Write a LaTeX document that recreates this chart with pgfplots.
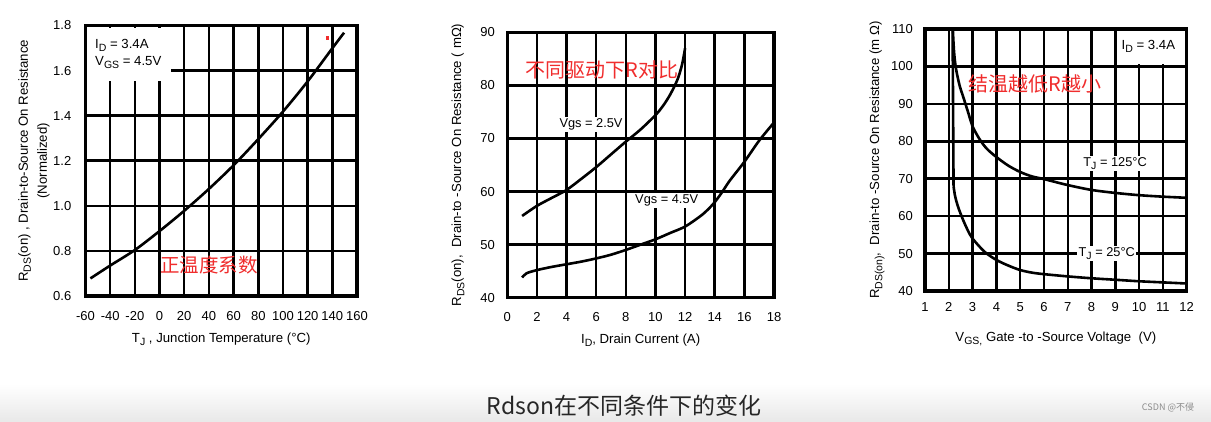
\documentclass[border=0pt]{standalone}
\usepackage{fontspec}
\setmainfont{Liberation Sans}
\newfontfamily\cjk{Noto Sans CJK SC}
\usepackage{pgfplots}
\pgfplotsset{compat=1.18}
\definecolor{anno}{RGB}{240,45,45}
\newcommand{\sub}[1]{\raisebox{-0.45ex}{\fontsize{10.5}{12}\selectfont #1}}
\pgfplotsset{
  rds/.style={
    scale only axis, anchor=south west, clip=false,
    grid=major, major grid style={black, line width=2.5pt},
    axis line style={line width=3.2pt},
    major tick length=0pt,
    tick label style={font=\fontsize{13}{15}\selectfont, inner sep=0pt},
    label style={font=\fontsize{13.2}{19}\selectfont},
    /pgf/number format/assume math mode=true,
  },
  curve/.style={black, line width=2.6pt, smooth, no marks},
}
\newcommand{\frameit}{\draw[line width=3.2pt] (rel axis cs:0,0) rectangle (rel axis cs:1,1);}
\begin{document}
\begin{tikzpicture}
\path[use as bounding box] (0,0) rectangle (1211pt,422pt);
\shade[top color=white, bottom color=black!9, draw=none] (0,0) rectangle (1211pt,38pt);

% ---------------- Chart 1 ----------------
\begin{axis}[rds,
  at={(85.5pt,126pt)}, width=271.5pt, height=270.5pt,
  xmin=-60, xmax=160, ymin=0.6, ymax=1.8,
  xtick={-60,-40,...,160}, ytick={0.6,0.8,...,1.8},
  xticklabel style={anchor=center, yshift=-20pt},
  yticklabel style={anchor=east, xshift=-14pt, /pgf/number format/.cd, fixed, fixed zerofill, precision=1},
  xlabel={T\sub{J} , Junction Temperature (°C)},
  xlabel style={at={(axis description cs:0.5,-0.159)}, anchor=center},
  ylabel={R\sub{DS}(on) , Drain-to-Source On Resistance\\(Normalized)},
  ylabel style={at={(axis description cs:-0.19,0.5)}, anchor=center, align=center},
]
\fill[white] (axis cs:-59,1.553) rectangle (axis cs:9,1.79);
\node[anchor=west, inner sep=0pt, font=\fontsize{13.2}{15}\selectfont] at (axis cs:-52.3,1.71) {I\sub{D} = 3.4A};
\node[anchor=west, inner sep=0pt, font=\fontsize{13.2}{15}\selectfont] at (axis cs:-52.3,1.635) {V\sub{GS} = 4.5V};
\addplot[curve] coordinates {(-56,0.678) (-40,0.735) (-20,0.804) (0,0.888) (20,0.978) (40,1.075) (60,1.18) (80,1.296) (100,1.418) (120,1.552) (140,1.699) (149.5,1.768)};
\addplot[only marks, mark=square*, mark size=1.1pt, color=anno] coordinates {(136,1.746)};
\node[text=anno, font=\cjk\fontsize{19.5}{22}\selectfont] at (axis cs:40,0.737) {正温度系数};
\frameit
\end{axis}

% ---------------- Chart 2 ----------------
\begin{axis}[rds,
  at={(507.3pt,124.3pt)}, width=266.7pt, height=265.4pt,
  xmin=0, xmax=18, ymin=40, ymax=90,
  xtick={0,2,...,18}, ytick={40,50,...,90},
  xticklabel style={anchor=center, yshift=-19.3pt},
  yticklabel style={anchor=east, xshift=-12.3pt},
  xlabel={I\sub{D}, Drain Current (A)},
  xlabel style={at={(axis description cs:0.5,-0.159)}, anchor=center},
  ylabel={R\sub{DS}(on),\ \ Drain-to -Source On Resistance ( mΩ)},
  ylabel style={at={(axis description cs:-0.185,0.5)}, anchor=center},
]
\node[fill=white, inner sep=1.5pt, font=\fontsize{12.8}{15}\selectfont] at (axis cs:5.65,72.6) {Vgs = 2.5V};
\node[fill=white, inner sep=1.5pt, font=\fontsize{12.8}{15}\selectfont] at (axis cs:10.76,58.3) {Vgs = 4.5V};
\addplot[curve] coordinates {(1,55.4) (2,57.3) (3,58.8) (4,60.3) (5,62.4) (6,64.6) (7,67) (8,69.4) (9,71.7) (10,74.4) (10.5,76.1) (11,78.3) (11.5,81.2) (11.8,84) (12,87)};
\addplot[curve] coordinates {(1,43.8) (1.3,44.6) (2,45.2) (3,45.8) (4,46.3) (5,46.8) (6,47.4) (7,48.1) (8,49) (9,50) (10,51) (11,52.2) (12,53.4) (13,55.3) (13.5,56.5) (14,58) (14.5,59.9) (15,62) (16,65.6) (17,69.6) (18,73)};
\node[text=anno, font=\cjk\fontsize{20}{22}\selectfont] at (axis cs:6.37,82.9) {不同驱动下R对比};
\frameit
\end{axis}

% ---------------- Chart 3 ----------------
\begin{axis}[rds,
  at={(925pt,131pt)}, width=261.7pt, height=262pt,
  xmin=1, xmax=12, ymin=40, ymax=110,
  xtick={1,2,...,12}, ytick={40,50,...,110},
  xticklabel style={anchor=center, yshift=-16pt},
  yticklabel style={anchor=east, xshift=-12pt},
  xlabel={V\sub{GS,} Gate -to -Source Voltage\ \ (V)},
  xlabel style={at={(axis description cs:0.5,-0.183)}, anchor=center},
  ylabel={R\sub{DS(on)},\ \ Drain-to -Source On Resistance (m Ω)},
  ylabel style={at={(axis description cs:-0.183,0.5)}, anchor=center},
]
\fill[white] (axis cs:9.15,100.6) rectangle (axis cs:11.95,109.6);
\node[font=\fontsize{13.2}{15}\selectfont] at (axis cs:10.39,105.3) {I\sub{D} = 3.4A};
\node[fill=white, inner sep=1.5pt, font=\fontsize{12.8}{15}\selectfont] at (axis cs:8.99,74.1) {T\sub{J} = 125°C};
\node[fill=white, inner sep=1.5pt, font=\fontsize{12.8}{15}\selectfont] at (axis cs:8.64,50.1) {T\sub{J} = 25°C};
\addplot[curve] coordinates {(2.17,110) (2.22,104) (2.3,99.5) (2.45,95) (2.6,92) (2.8,88) (3,84) (3.3,80.5) (3.6,78) (4,75.8) (4.5,73.5) (5,71.8) (5.5,70.6) (6,69.9) (7,68.3) (8,67) (9,66.2) (10,65.6) (11,65.2) (12,64.9)};
\addplot[black, line width=2.6pt, no marks] coordinates {(2.16,110) (2.2,68)};
\addplot[curve] coordinates {(2.2,68) (2.27,65.2) (2.4,62.3) (2.6,59) (2.8,56.2) (3,54) (3.5,50.5) (4,48.3) (4.5,46.8) (5,45.6) (5.5,44.9) (6,44.5) (7,43.9) (8,43.4) (9,43) (10,42.6) (11,42.3) (12,42)};
\node[text=anno, font=\cjk\fontsize{20}{22}\selectfont] at (axis cs:5.62,95.3) {结温越低R越小};
\frameit
\end{axis}

\node[text=black!85, font=\cjk\fontsize{23}{26}\selectfont] at (624pt,16pt) {Rdson在不同条件下的变化};
\node[text=black!45, font=\cjk\fontsize{9}{10}\selectfont] at (1168pt,14pt) {CSDN @不侵};
\end{tikzpicture}
\end{document}
